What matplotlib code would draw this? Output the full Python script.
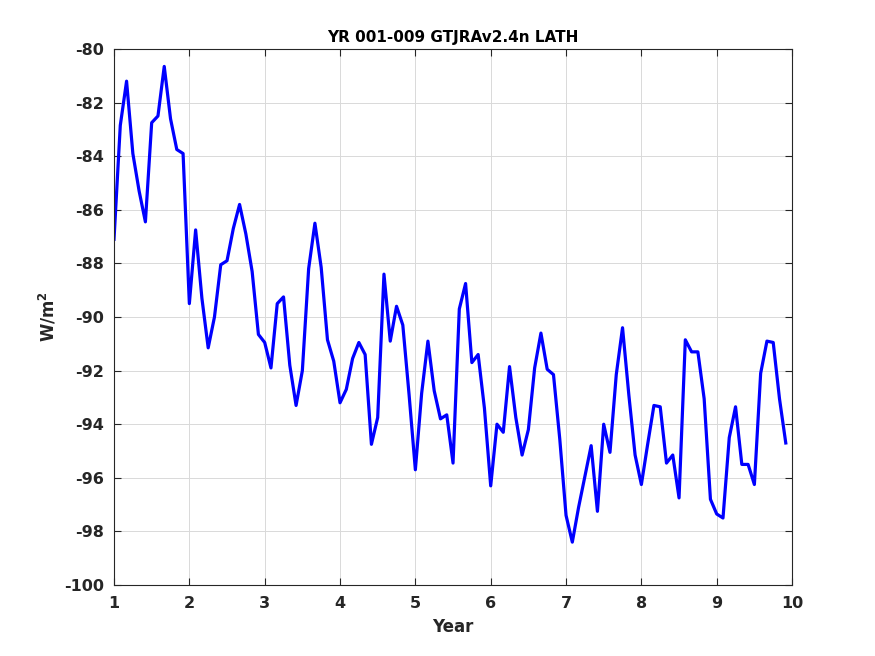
import matplotlib
matplotlib.use("Agg")
import matplotlib.pyplot as plt
import numpy as np

plt.rcParams['font.family'] = ['DejaVu Sans']
plt.rcParams['axes.unicode_minus'] = False

start_year = 1.0
months_per_year = 12
values = [
    -87.1, -82.85, -81.2, -83.9, -85.3, -86.45, -82.75, -82.5, -80.65, -82.6, -83.75, -83.9,
    -89.5, -86.75, -89.3, -91.15, -90.0, -88.05, -87.9, -86.7, -85.8, -86.9, -88.3, -90.65,
    -90.95, -91.9, -89.5, -89.25, -91.8, -93.3, -92.0, -88.2, -86.5, -88.15, -90.85, -91.65,
    -93.2, -92.7, -91.55, -90.95, -91.4, -94.75, -93.75, -88.4, -90.9, -89.6, -90.3, -92.9,
    -95.7, -92.85, -90.9, -92.75, -93.8, -93.65, -95.45, -89.7, -88.75, -91.7, -91.4, -93.4,
    -96.3, -94.0, -94.3, -91.85, -93.75, -95.15, -94.2, -91.9, -90.6, -91.95, -92.15, -94.55,
    -97.4, -98.4, -97.1, -95.95, -94.8, -97.25, -94.0, -95.05, -92.15, -90.4, -92.9, -95.15,
    -96.25, -94.75, -93.3, -93.35, -95.45, -95.15, -96.75, -90.85, -91.3, -91.3, -93.05, -96.8,
    -97.35, -97.5, -94.5, -93.35, -95.5, -95.5, -96.25, -92.1, -90.9, -90.95, -93.05, -94.7,
]
years = start_year + np.arange(len(values)) / months_per_year

title = "YR 001-009 GTJRAv2.4n LATH"
xlabel = "Year"
ylabel = "W/m$^\\mathbf{2}$"
xticks = list(range(1, 11))
yticks = list(range(-100, -79, 2))

fig = plt.figure(figsize=(8.75, 6.56), dpi=100)
ax = fig.add_axes([0.1303, 0.1082, 0.7749, 0.8171])
ax.plot(years, values, color='#0000ff', linewidth=2.3)
ax.set_xlim(1, 10)
ax.set_ylim(-100, -80)
ax.set_xticks(xticks)
ax.set_yticks(yticks)
ax.grid(True, color='#d9d9d9', linewidth=0.7)
ax.set_axisbelow(True)
ax.tick_params(direction='in', length=5, width=0.8, labelsize=11.5, colors='#262626',
               top=True, right=True)
ax.tick_params(axis='x', pad=8)
ax.tick_params(axis='y', pad=7)
for lab in ax.get_xticklabels() + ax.get_yticklabels():
    lab.set_fontweight('bold')
for sp in ax.spines.values():
    sp.set_color('#262626')
    sp.set_linewidth(0.8)
ax.set_title(title, fontsize=11, fontweight='bold', color='black', pad=5)
ax.set_xlabel(xlabel, fontsize=12, fontweight='bold', color='#262626', labelpad=5)
ax.set_ylabel(ylabel, fontsize=12, fontweight='bold', color='#262626', labelpad=4)
fig.savefig("out.png", dpi=100)
